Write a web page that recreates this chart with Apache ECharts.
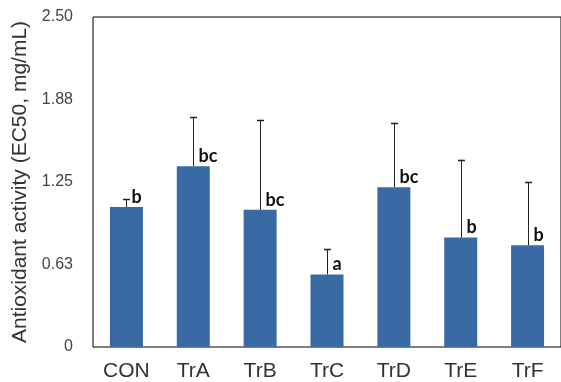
<!DOCTYPE html>
<html>
<head>
<meta charset="utf-8">
<script src="https://cdn.jsdelivr.net/npm/echarts@6/dist/echarts.min.js"></script>
<style>html,body{margin:0;padding:0;background:#fff;}#c{width:561px;height:382px;}</style>
</head>
<body>
<div id="c"></div>
<script>
var categories = ['CON', 'TrA', 'TrB', 'TrC', 'TrD', 'TrE', 'TrF'];
var means = [1.06, 1.37, 1.04, 0.55, 1.21, 0.83, 0.77];
var errors = [0.06, 0.37, 0.68, 0.19, 0.49, 0.59, 0.48];
var letters = ['b', 'bc', 'bc', 'a', 'bc', 'b', 'b'];
var yTickLabels = ['0', '0.63', '1.25', '1.88', '2.50'];

var chart = echarts.init(document.getElementById('c'), null, {renderer: 'canvas'});
var errData = categories.map(function (c, i) { return [i, means[i], errors[i]]; });

chart.setOption({
  animation: false,
  grid: {left: 93, top: 17, width: 476, height: 332, show: true, borderColor: '#000', borderWidth: 1, backgroundColor: 'transparent'},
  xAxis: {
    type: 'category', data: categories,
    axisLine: {show: false}, axisTick: {show: false},
    axisLabel: {fontFamily: 'Liberation Sans, Arial', fontSize: 21, color: '#333', margin: 14}
  },
  yAxis: {
    type: 'value', min: 0, max: 2.5, interval: 0.625,
    name: 'Antioxidant activity (EC50, mg/mL)', nameLocation: 'middle', nameGap: 60,
    nameTextStyle: {fontFamily: 'Liberation Sans, Arial', fontSize: 21, color: '#333'},
    axisLine: {show: false}, axisTick: {show: false}, splitLine: {show: false},
    axisLabel: {
      fontFamily: 'Liberation Sans, Arial', fontSize: 16, color: '#444', margin: 20,
      formatter: function (v) { return yTickLabels[Math.round(v / 0.625)]; }
    }
  },
  series: [
    {type: 'bar', data: means, barWidth: 33, itemStyle: {color: '#3a6aa4'}},
    {
      type: 'custom', data: errData, z: 5,
      renderItem: function (params, api) {
        var i = api.value(0), m = api.value(1), e = api.value(2);
        var base = api.coord([i, m]);
        var top = api.coord([i, m + e]);
        var x = Math.round(base[0]) + 0.5;
        return {
          type: 'group',
          children: [
            {type: 'line', shape: {x1: x, y1: base[1], x2: x, y2: top[1]}, style: {stroke: '#222', lineWidth: 1}},
            {type: 'line', shape: {x1: x - 3.5, y1: Math.round(top[1]) + 0.5, x2: x + 3.5, y2: Math.round(top[1]) + 0.5}, style: {stroke: '#222', lineWidth: 1.5}},
            {type: 'text', x: x + 5, y: base[1] - 1, style: {text: letters[params.dataIndex], align: 'left', verticalAlign: 'bottom', fontFamily: 'Lato', fontWeight: 'bold', fontSize: 18, fill: '#111'}}
          ]
        };
      }
    }
  ]
});
</script>
</body>
</html>
